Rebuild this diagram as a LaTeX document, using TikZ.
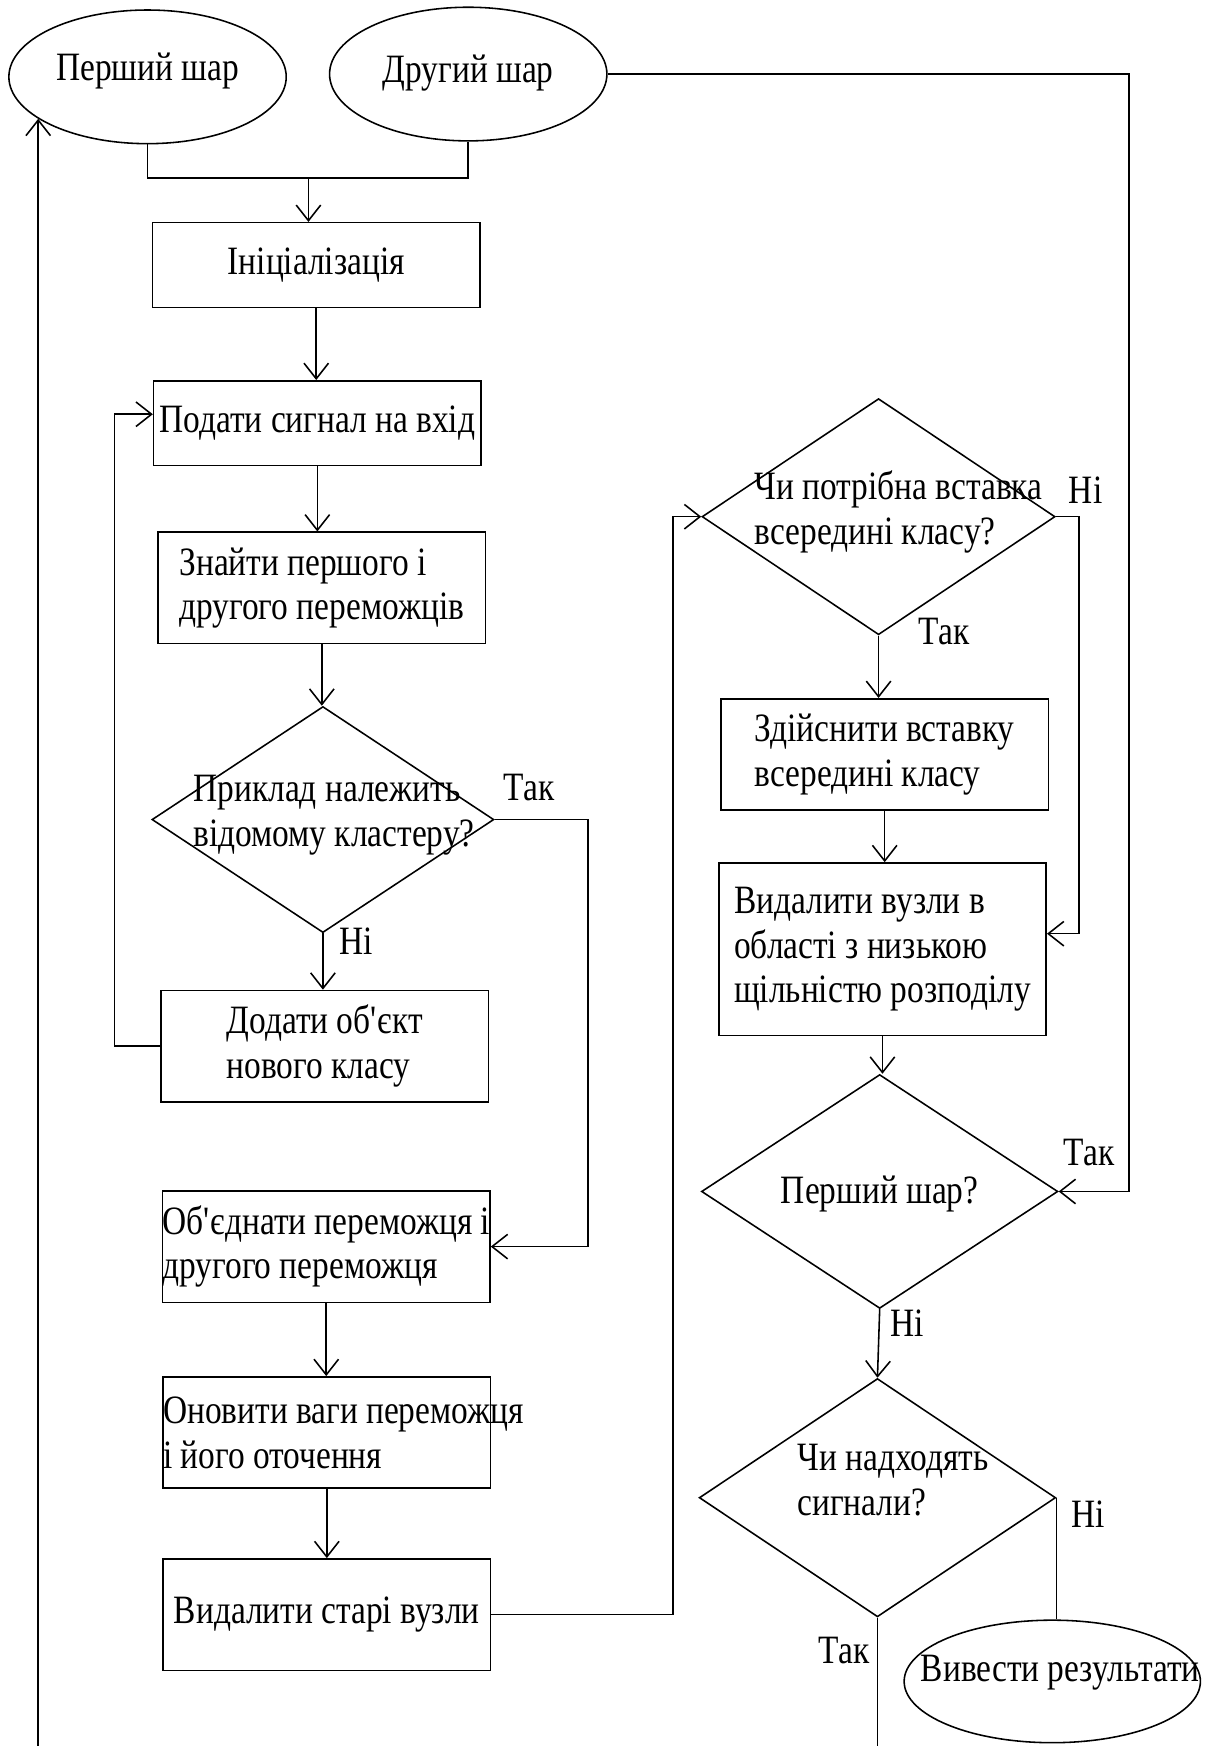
\documentclass[tikz,border=0pt]{standalone}
\usepackage{fontspec}
\setmainfont{Liberation Serif}[FakeStretch=0.83]
\usetikzlibrary{arrows.meta,shapes.geometric}

\tikzset{
  blok/.style={draw, rectangle, minimum width=7.35cm, minimum height=2.5cm, inner sep=0pt, align=left},
  ovalnyi/.style={draw, ellipse, minimum width=6.225cm, minimum height=3cm, inner sep=0pt},
  vybir/.style={draw, diamond, minimum width=8cm, minimum height=5.3cm, inner sep=0pt},
  strilka/.style={-{Straight Barb[length=0.35cm, width=0.55cm]}},
}
\newcommand{\ryadok}[1]{\makebox[7.35cm][l]{#1}}

\begin{document}
\begin{tikzpicture}[x=0.025cm, y=-0.025cm, line width=1pt, font=\fontsize{25.7}{28.5}\selectfont]
\useasboundingbox (0,0) rectangle (1093,1568);
\coordinate (niz) at (0,1568);

% left column
\node[ovalnyi, label={[yshift=0.12cm]center:Перший шар}] (shar1) at (132.5,69) {};
\node[ovalnyi, label={[yshift=0.02cm]center:Другий шар}] (shar2) at (420.5,66.5) {};
\node[blok, minimum height=1.9cm] (init) at (284,238) {Ініціалізація};
\node[blok, minimum height=1.9cm] (podaty) at (285,380) {Подати сигнал на вхід};
\node[blok] (znayty) at (289,528) {Знайти першого і\\другого переможців};
\node[vybir, minimum width=7.675cm, minimum height=5.075cm,
  label={[align=left, xshift=0.25cm, yshift=0.1cm]center:Приклад належить\\відомому кластеру?}] (vybir1) at (290,736) {};
\node[blok] (dodaty) at (291.5,939.5) {Додати об\textquotesingle єкт\\нового класу};
\node[blok] (obyednaty) at (293,1119.5) {\ryadok{Об\textquotesingle єднати переможця і}\\\ryadok{другого переможця}};
\node[blok] (onovyty) at (293.5,1286.5) {\ryadok{Оновити ваги переможця}\\\ryadok{і його оточення}};
\node[blok] (vydalyty) at (293.5,1450) {Видалити старі вузли};

% right column
\node[vybir, minimum width=7.925cm,
  label={[align=left, xshift=0.45cm, yshift=0.1cm]center:Чи потрібна вставка\\всередині класу?}] (vybir2) at (789,464) {};
\node[blok] (zdiysnyty) at (794.5,677.5) {Здійснити вставку\\всередині класу};
\node[blok, minimum height=3.875cm] (vuzly) at (792.5,852.5) {Видалити вузли в\\області з низькою\\щільністю розподілу};
\node[vybir, minimum height=5.25cm,
  label={[yshift=-0.05cm]center:Перший шар?}] (vybir3) at (790,1070) {};
\node[vybir, minimum height=5.35cm,
  label={[align=left, xshift=0.35cm, yshift=0.4cm]center:Чи надходять\\сигнали?}] (vybir4) at (788,1345) {};
\node[ovalnyi, minimum width=6.65cm, minimum height=2.75cm,
  label={[xshift=0.18cm, yshift=0.2cm]center:Вивести результати}] (vyvesty) at (945,1510) {};

% answers
\node (tak1) at (475,707) {Так};
\node (ni1) at (320,845) {Ні};
\node (ni2) at (975,440) {Ні};
\node (tak2) at (848,567) {Так};
\node (tak3) at (978,1035) {Так};
\node (ni3) at (815,1188) {Ні};
\node (ni4) at (977,1360) {Ні};
\node (tak4) at (758,1482) {Так};

% connectors
\coordinate (zlyv) at (277,160);
\draw (shar1.south) |- (zlyv) -| (shar2.south);
\draw[strilka] (zlyv) -- (zlyv |- init.north);
\draw[strilka] (init.south) -- (init.south |- podaty.north);
\draw[strilka] (podaty.south) -- (podaty.south |- znayty.north);
\draw[strilka] (znayty.south) -- (znayty.south |- vybir1.north);
\draw[strilka] (vybir1.south) -- (vybir1.south |- dodaty.north);
\draw[strilka] (dodaty.west) -- ++(-41,0) |- ([yshift=0.2cm]podaty.west);
\draw[strilka] (vybir1.east) -- ++(84,0) |- (obyednaty.east);
\draw[strilka] (obyednaty.south) -- (obyednaty.south |- onovyty.north);
\draw[strilka] (onovyty.south) -- (onovyty.south |- vydalyty.north);
\draw[strilka] (vydalyty.east) -- ++(163,0) |- (vybir2.west);
\draw[strilka] (vybir2.south) -- (vybir2.south |- zdiysnyty.north);
\draw[strilka] (vybir2.east) -- ++(21,0) |- ([yshift=0.35cm]vuzly.east);
\draw[strilka] (zdiysnyty.south) -- (zdiysnyty.south |- vuzly.north);
\draw[strilka] (vuzly.south) -- (vuzly.south |- vybir3.north);
\draw[strilka] (shar2.east) -- ++(468,0) |- (vybir3.east);
\draw[strilka] (vybir3.south) -- (vybir4.north);
\draw (vybir4.east) -- (vybir4.east |- vyvesty.north);
\coordinate (kinec) at (vybir4.south |- niz);
\draw (vybir4.south) -- (kinec);
\coordinate (povernennya) at (shar1.201 |- niz);
\draw[strilka] (povernennya) -- (shar1.201);

\end{tikzpicture}
\end{document}
